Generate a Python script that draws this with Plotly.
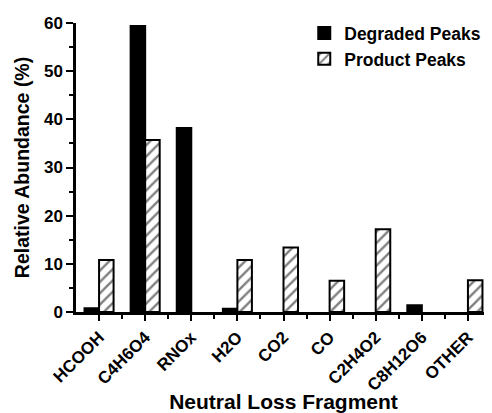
import plotly.graph_objects as go

categories = ["HCOOH", "C4H6O4", "RNOx", "H2O", "CO2", "CO", "C2H4O2", "C8H12O6", "OTHER"]
degraded = [0.8, 59.4, 38.2, 0.7, None, None, None, 1.4, None]
product = [10.8, 35.7, None, 10.8, 13.4, 6.5, 17.2, None, 6.6]
y_ticks = [0, 10, 20, 30, 40, 50, 60]

xpos = list(range(len(categories)))
FONT = "Arial, Liberation Sans, sans-serif"

fig = go.Figure()
fig.add_trace(go.Bar(
    x=xpos, y=degraded, name="Degraded Peaks",
    marker=dict(color="black", line=dict(color="black", width=2)),
))
fig.add_trace(go.Bar(
    x=xpos, y=product, name="Product Peaks",
    marker=dict(color="white", line=dict(color="black", width=2),
                pattern=dict(shape="/", fgcolor="black", bgcolor="white", size=8, solidity=0.3)),
))

fig.update_layout(
    width=484, height=405,
    margin=dict(l=68, r=1, t=15, b=101, autoexpand=False),
    plot_bgcolor="white", paper_bgcolor="white",
    barmode="group", bargap=0.37, bargroupgap=0,
    font=dict(family=FONT, color="black", size=14, weight="bold"),
    showlegend=True,
    legend=dict(x=0.55, y=1.027, xanchor="left", yanchor="top",
                font=dict(family=FONT, size=17.5, weight="bold", color="black"),
                bgcolor="rgba(0,0,0,0)", tracegroupgap=0),
    xaxis=dict(
        range=[-0.5, 8.5], tickmode="array", tickvals=xpos, ticktext=categories,
        tickangle=-45, ticks="outside", ticklen=6, tickwidth=2, tickcolor="black",
        showline=True, linewidth=2.5, linecolor="black", showgrid=False, zeroline=False,
        automargin=False,
        tickfont=dict(family=FONT, size=17, weight="bold"),
        minor=dict(tickvals=[i + 0.5 for i in xpos[:-1]], ticks="outside", ticklen=4,
                   tickwidth=2, tickcolor="black", showgrid=False),
        title=dict(text="Neutral Loss Fragment", font=dict(family=FONT, size=21, weight="bold"), standoff=8),
    ),
    yaxis=dict(
        range=[0, 60], tickmode="array", tickvals=y_ticks,
        ticks="outside", ticklen=7, tickwidth=2, tickcolor="black",
        showline=True, linewidth=2.5, linecolor="black", showgrid=False, zeroline=False,
        automargin=False,
        tickfont=dict(family=FONT, size=17, weight="bold"),
        minor=dict(dtick=5, tick0=0, ticks="outside", ticklen=4, tickwidth=2, tickcolor="black", showgrid=False),
        title=dict(text="Relative Abundance (%)", font=dict(family=FONT, size=19.5, weight="bold"), standoff=10),
    ),
)

fig.write_html("out.html")
